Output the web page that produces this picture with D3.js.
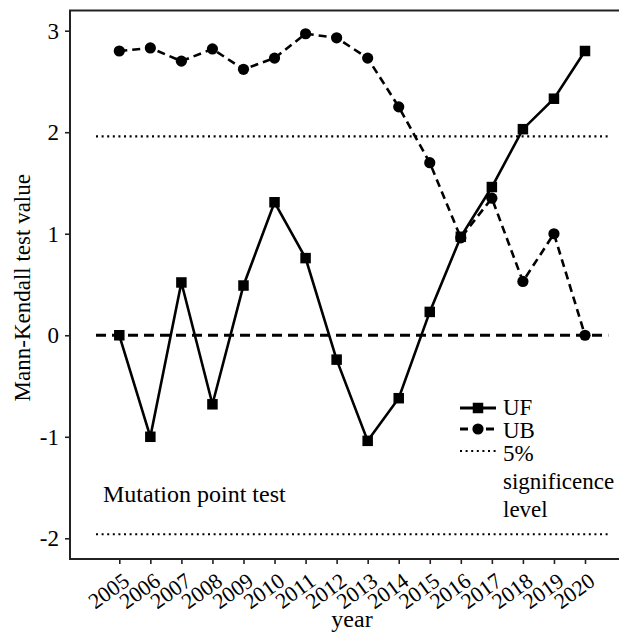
<!DOCTYPE html>
<html>
<head>
<meta charset="utf-8">
<script src="https://cdn.jsdelivr.net/npm/d3@7"></script>
<style>
  html, body { margin: 0; padding: 0; background: #fff; }
  svg { display: block; }
  text { font-family: "Liberation Serif", "Times New Roman", serif; fill: #000; }
</style>
</head>
<body>
<svg id="chart" width="619" height="633"></svg>
<script>
const years = [2005,2006,2007,2008,2009,2010,2011,2012,2013,2014,2015,2016,2017,2018,2019,2020];
const UF = [0, -1.0, 0.52, -0.68, 0.49, 1.31, 0.76, -0.24, -1.04, -0.62, 0.23, 0.97, 1.46, 2.03, 2.33, 2.80];
const UB = [2.80, 2.83, 2.70, 2.82, 2.62, 2.73, 2.97, 2.93, 2.73, 2.25, 1.70, 0.96, 1.35, 0.53, 1.00, 0];
const yTicks = [-2, -1, 0, 1, 2, 3];
const sigLevel = 1.96;
const legendLabels = ["UF", "UB", "5%", "significence", "level"];
const yTitle = "Mann-Kendall test value";
const xTitle = "year";
const note = "Mutation point test";

const svg = d3.select("#chart");
const pLeft = 70, pRight = 634, pTop = 10.5, pBottom = 559;

const x = d3.scaleLinear().domain([2005, 2020]).range([119.3, 585]);
const y = d3.scaleLinear().domain([-2, 3]).range([538.3, 30.7]);

// panel border (right side falls outside the picture)
svg.append("rect")
  .attr("x", pLeft).attr("y", pTop)
  .attr("width", pRight - pLeft).attr("height", pBottom - pTop)
  .attr("fill", "none").attr("stroke", "#222").attr("stroke-width", 2);

// reference lines
const lineStart = x(2004.25), lineEnd = x(2020.75);
[sigLevel, -sigLevel].forEach(v => {
  svg.append("line")
    .attr("x1", lineStart).attr("x2", lineEnd)
    .attr("y1", y(v)).attr("y2", y(v))
    .attr("stroke", "#000").attr("stroke-width", 2.2)
    .attr("stroke-dasharray", "2,3.6");
});
svg.append("line")
  .attr("x1", lineStart).attr("x2", lineEnd)
  .attr("y1", y(0)).attr("y2", y(0))
  .attr("stroke", "#000").attr("stroke-width", 2.8)
  .attr("stroke-dasharray", "10,6");

const line = d3.line().x((d, i) => x(years[i])).y(d => y(d));

// UB dashed line
svg.append("path").datum(UB)
  .attr("d", line).attr("fill", "none")
  .attr("stroke", "#000").attr("stroke-width", 2.6)
  .attr("stroke-dasharray", "8,5");
// UF solid line
svg.append("path").datum(UF)
  .attr("d", line).attr("fill", "none")
  .attr("stroke", "#000").attr("stroke-width", 2.6);

// markers
svg.selectAll("circle.ub").data(UB).enter().append("circle")
  .attr("class", "ub")
  .attr("cx", (d, i) => x(years[i])).attr("cy", d => y(d))
  .attr("r", 5.6).attr("fill", "#000");
const sq = 10.5;
svg.selectAll("rect.uf").data(UF).enter().append("rect")
  .attr("class", "uf")
  .attr("x", (d, i) => x(years[i]) - sq / 2).attr("y", d => y(d) - sq / 2)
  .attr("width", sq).attr("height", sq).attr("fill", "#000");

// y axis
const yAxis = d3.axisLeft(y).tickValues(yTicks).tickSize(5).tickPadding(6).tickFormat(d => String(d));
const gy = svg.append("g").attr("transform", `translate(${pLeft},0)`).call(yAxis);
gy.select(".domain").remove();
gy.selectAll(".tick line").attr("stroke", "#222").attr("stroke-width", 1.6);
gy.selectAll(".tick text").style("font-size", "23px").attr("font-family", "Liberation Serif");

// x axis
const xAxis = d3.axisBottom(x).tickValues(years).tickSize(5).tickFormat(d => String(d));
const gx = svg.append("g").attr("transform", `translate(0,${pBottom})`).call(xAxis);
gx.select(".domain").remove();
gx.selectAll(".tick line").attr("stroke", "#222").attr("stroke-width", 1.6);
gx.selectAll(".tick text")
  .style("font-size", "22px").attr("font-family", "Liberation Serif")
  .attr("text-anchor", "end")
  .attr("dy", null).attr("y", 0)
  .attr("transform", "translate(11,25) rotate(-36)");

// titles
svg.append("text")
  .attr("transform", `translate(30,${(pTop + pBottom) / 2 + 3}) rotate(-90)`)
  .attr("text-anchor", "middle")
  .style("font-size", "23px")
  .text(yTitle);
svg.append("text")
  .attr("x", 352).attr("y", 627)
  .attr("text-anchor", "middle")
  .style("font-size", "24px")
  .text(xTitle);

// note
svg.append("text")
  .attr("x", 103).attr("y", 502)
  .style("font-size", "24px")
  .text(note);

// legend
const lx0 = 460, lx1 = 496, lxm = (lx0 + lx1) / 2, tx = 503;
const lg = svg.append("g");
const rowY = [408, 429, 451];
lg.append("line").attr("x1", lx0).attr("x2", lx1).attr("y1", rowY[0]).attr("y2", rowY[0])
  .attr("stroke", "#000").attr("stroke-width", 2.8);
lg.append("rect").attr("x", lxm - sq / 2).attr("y", rowY[0] - sq / 2).attr("width", sq).attr("height", sq).attr("fill", "#000");
lg.append("line").attr("x1", lx0).attr("x2", lx1).attr("y1", rowY[1]).attr("y2", rowY[1])
  .attr("stroke", "#000").attr("stroke-width", 2.8).attr("stroke-dasharray", "8,5");
lg.append("circle").attr("cx", lxm).attr("cy", rowY[1]).attr("r", 5.6).attr("fill", "#000");
lg.append("line").attr("x1", lx0).attr("x2", lx1).attr("y1", rowY[2]).attr("y2", rowY[2])
  .attr("stroke", "#000").attr("stroke-width", 2).attr("stroke-dasharray", "2,3.6");
const textY = [407, 430, 453, 481, 509];
legendLabels.forEach((t, i) => {
  lg.append("text").attr("x", tx).attr("y", textY[i] + 8)
    .style("font-size", "23px").text(t);
});
</script>
</body>
</html>
